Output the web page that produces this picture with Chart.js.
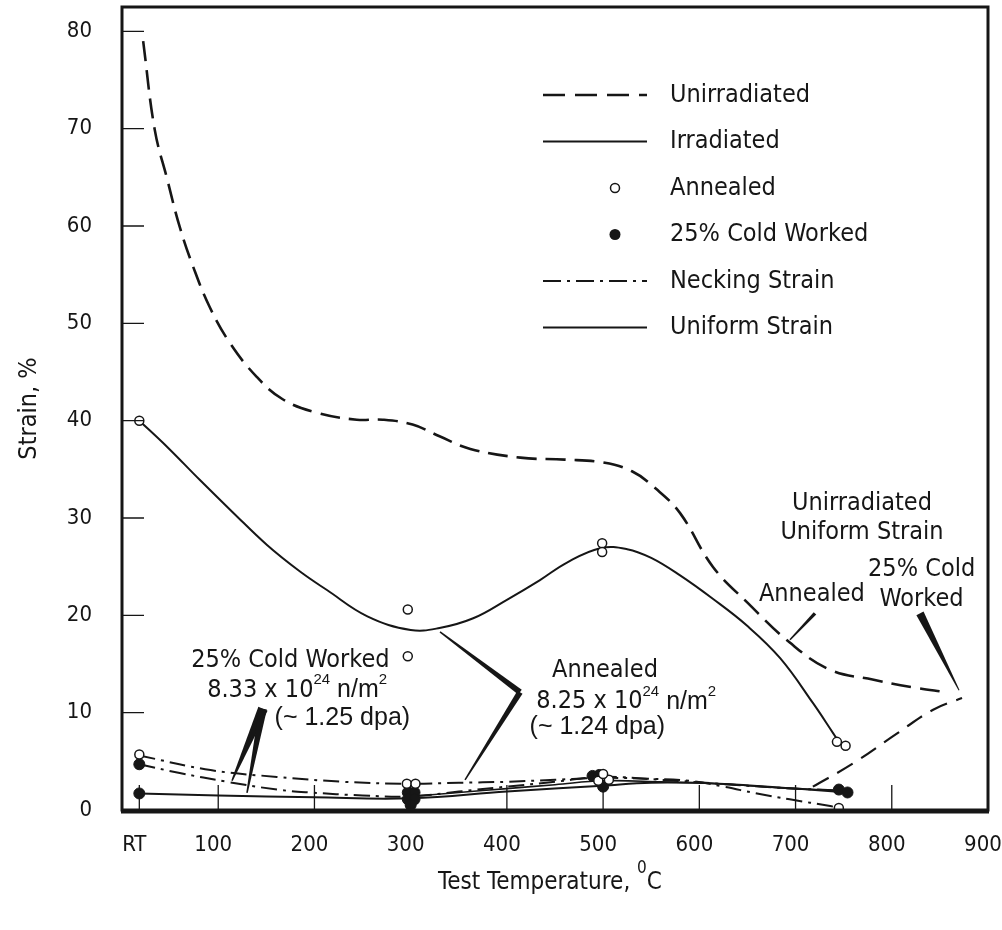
<!DOCTYPE html>
<html>
<head>
<meta charset="utf-8">
<title>Strain vs Test Temperature</title>
<script src="https://cdn.jsdelivr.net/npm/chart.js@4.4.1/dist/chart.umd.min.js"></script>
<style>
  html, body { margin: 0; padding: 0; background: #fff; }
</style>
</head>
<body>
<canvas id="strainChart" width="1002" height="930"></canvas>
<script>
const NARROW = '"Liberation Sans Narrow", "DejaVu Sans Condensed", "Arial Narrow", sans-serif';
const ARIAL = '"Liberation Sans", Arial, sans-serif';
const INK = '#161616';

const RT = 18; // room temperature, plotted just right of 0

const xTicks = [RT, 100, 200, 300, 400, 500, 600, 700, 800, 900];
const yTicks = [0, 10, 20, 30, 40, 50, 60, 70, 80];

// unirradiated, annealed
const unirrTemp = [22, 34, 47, 60, 74, 91, 112, 140, 167, 203, 244, 271, 302, 330, 362, 414, 460, 500, 530, 555, 580, 614, 650, 694, 736, 780, 822, 857];
const unirrStrain = [79.0, 69.9, 64.8, 59.9, 55.8, 51.7, 48.0, 44.5, 42.2, 40.8, 40.1, 40.1, 39.6, 38.4, 37.1, 36.2, 36.0, 35.7, 34.8, 33.0, 30.5, 25.0, 21.3, 17.2, 14.4, 13.4, 12.6, 12.1];

// unirradiated uniform strain, 25% cold worked
const unirrCwTemp = [718, 760, 806, 843, 873];
const unirrCwStrain = [2.4, 4.8, 7.9, 10.3, 11.5];

// irradiated, annealed
const irrTemp = [RT, 47, 81, 115, 151, 185, 213, 255, 300, 330, 365, 400, 434, 462, 497, 525, 550, 580, 614, 650, 684, 718, 739, 745];
const irrStrain = [40.0, 37.3, 33.9, 30.6, 27.2, 24.5, 22.6, 19.9, 18.5, 18.7, 19.7, 21.6, 23.6, 25.4, 26.9, 26.8, 25.9, 24.1, 21.7, 18.9, 15.6, 11.0, 7.9, 7.0];

// necking strain
const neckAnnTemp = [RT, 92, 161, 230, 296, 350, 400, 450, 500, 550, 590, 625, 660, 694, 736, 745];
const neckAnnStrain = [5.6, 4.1, 3.4, 2.9, 2.7, 2.8, 2.9, 3.1, 3.3, 3.2, 3.0, 2.4, 1.7, 1.1, 0.4, 0.2];
const neckCwTemp = [RT, 60, 109, 161, 195, 250, 300, 350, 400, 450, 500, 560, 620, 680, 745];
const neckCwStrain = [4.7, 3.8, 2.9, 2.1, 1.8, 1.5, 1.4, 1.9, 2.4, 2.9, 3.4, 3.1, 2.7, 2.3, 2.0];

// uniform strain
const unifCwTemp = [RT, 100, 200, 300, 400, 499, 550, 620, 700, 754];
const unifCwStrain = [1.7, 1.5, 1.3, 1.2, 1.9, 2.5, 2.8, 2.7, 2.2, 1.8];
const unifAnnTemp = [300, 350, 400, 450, 500, 560, 620, 680, 745];
const unifAnnStrain = [1.4, 1.8, 2.2, 2.6, 3.0, 2.9, 2.7, 2.3, 2.0];

// measured specimens
const annealedTemp = [RT, 297, 297, 499, 499, 743, 752, RT, 296, 305, 495, 506, 500, 745];
const annealedStrain = [40.0, 20.6, 15.8, 27.4, 26.5, 7.0, 6.6, 5.7, 2.7, 2.7, 3.0, 3.1, 3.7, 0.2];
const coldWorkedTemp = [RT, RT, 297, 304, 297, 304, 300, 489, 496, 500, 745, 754];
const coldWorkedStrain = [4.7, 1.7, 1.8, 1.8, 1.1, 1.1, 0.5, 3.5, 3.6, 2.4, 2.1, 1.8];

function pts(xs, ys) {
  return xs.map((x, i) => ({ x: x, y: ys[i] }));
}

function curve(label, xs, ys, width, dash) {
  return {
    label: label,
    data: pts(xs, ys),
    borderColor: INK,
    borderWidth: width,
    borderDash: dash || [],
    pointRadius: 0,
    fill: false,
    tension: 0.4
  };
}

// tapered pointer stroke from a (width wa) to b (width wb)
function taper(ctx, a, b, wa, wb) {
  const dx = b.x - a.x, dy = b.y - a.y;
  const len = Math.hypot(dx, dy) || 1;
  const nx = -dy / len, ny = dx / len;
  ctx.beginPath();
  ctx.moveTo(a.x + nx * wa / 2, a.y + ny * wa / 2);
  ctx.lineTo(b.x + nx * wb / 2, b.y + ny * wb / 2);
  ctx.lineTo(b.x - nx * wb / 2, b.y - ny * wb / 2);
  ctx.lineTo(a.x - nx * wa / 2, a.y - ny * wa / 2);
  ctx.closePath();
  ctx.fill();
}

// text runs with raised superscripts, centred on cx
function richText(ctx, parts, cx, cy) {
  let w = 0;
  parts.forEach(p => { ctx.font = p[1]; w += ctx.measureText(p[0]).width; });
  let x = cx - w / 2;
  ctx.textAlign = 'left';
  ctx.textBaseline = 'middle';
  parts.forEach(p => {
    ctx.font = p[1];
    ctx.fillText(p[0], x, cy - (p[2] || 0));
    x += ctx.measureText(p[0]).width;
  });
}

const NOTE_FONT = '25px ' + NARROW;
const SUP_FONT = '15px ' + ARIAL;
const DPA_FONT = '25px ' + ARIAL;

const notes = [
  { t: 'Unirradiated', x: 769, y: 31.5 },
  { t: 'Uniform Strain', x: 769, y: 28.5 },
  { t: 'Annealed', x: 717, y: 22.1 },
  { t: '25% Cold', x: 831, y: 24.7 },
  { t: 'Worked', x: 831, y: 21.6 },
  { t: '25% Cold Worked', x: 175, y: 15.4 },
  { t: 'Annealed', x: 502, y: 14.3 }
];

const fluence = [
  { lead: '8.33 x 10', dpa: '(~ 1.25 dpa)', x: 182, y: 12.3, dx: 229, dy: 9.45 },
  { lead: '8.25 x 10', dpa: '(~ 1.24 dpa)', x: 524, y: 11.1, dx: 494, dy: 8.5 }
];

const legendRows = [
  { t: 'Unirradiated', kind: 'line', dash: [22, 10], w: 2.5 },
  { t: 'Irradiated', kind: 'line', dash: [], w: 2 },
  { t: 'Annealed', kind: 'open' },
  { t: '25% Cold Worked', kind: 'filled' },
  { t: 'Necking Strain', kind: 'line', dash: [18, 6, 3, 6], w: 2 },
  { t: 'Uniform Strain', kind: 'line', dash: [], w: 2 }
];

const decorations = {
  id: 'decorations',
  afterDraw(chart) {
    const { ctx, chartArea: a, scales } = chart;
    const sx = scales.x, sy = scales.y;
    const P = (x, y) => ({ x: sx.getPixelForValue(x), y: sy.getPixelForValue(y) });
    ctx.save();
    ctx.fillStyle = INK;
    ctx.strokeStyle = INK;

    // frame
    ctx.lineWidth = 3;
    ctx.strokeRect(a.left, a.top, a.right - a.left, a.bottom - a.top);
    ctx.lineWidth = 4;
    ctx.beginPath();
    ctx.moveTo(a.left - 1, a.bottom + 1.5);
    ctx.lineTo(a.right + 1, a.bottom + 1.5);
    ctx.stroke();

    // inward tick marks
    ctx.lineWidth = 1.3;
    ctx.beginPath();
    yTicks.slice(1).forEach(v => {
      const py = sy.getPixelForValue(v);
      ctx.moveTo(a.left, py);
      ctx.lineTo(a.left + 22, py);
    });
    xTicks.slice(0, -1).forEach(v => {
      const px = sx.getPixelForValue(v);
      ctx.moveTo(px, a.bottom);
      ctx.lineTo(px, a.bottom - 25);
    });
    ctx.stroke();

    // legend
    legendRows.forEach((r, i) => {
      const y = 95 + i * 46.5;
      if (r.kind === 'line') {
        ctx.lineWidth = r.w;
        ctx.setLineDash(r.dash);
        ctx.beginPath();
        ctx.moveTo(543, y);
        ctx.lineTo(647, y);
        ctx.stroke();
        ctx.setLineDash([]);
      } else {
        ctx.beginPath();
        ctx.arc(615, y, r.kind === 'open' ? 4.5 : 5.5, 0, Math.PI * 2);
        if (r.kind === 'open') {
          ctx.fillStyle = '#fff';
          ctx.fill();
          ctx.lineWidth = 1.5;
          ctx.stroke();
          ctx.fillStyle = INK;
        } else {
          ctx.fill();
        }
      }
      ctx.font = NOTE_FONT;
      ctx.textAlign = 'left';
      ctx.textBaseline = 'middle';
      ctx.fillText(r.t, 670, y);
    });

    // labels inside the plot
    ctx.font = NOTE_FONT;
    ctx.textAlign = 'center';
    ctx.textBaseline = 'middle';
    notes.forEach(n => {
      const p = P(n.x, n.y);
      ctx.fillText(n.t, p.x, p.y);
    });
    fluence.forEach(f => {
      const p = P(f.x, f.y);
      richText(ctx, [
        [f.lead, NOTE_FONT],
        ['24', SUP_FONT, 10],
        [' n/m', DPA_FONT],
        ['2', SUP_FONT, 10]
      ], p.x, p.y);
      const q = P(f.dx, f.dy);
      ctx.font = DPA_FONT;
      ctx.textAlign = 'center';
      ctx.fillText(f.dpa, q.x, q.y);
    });

    // pointers
    taper(ctx, P(146.5, 10.4), P(114.3, 3.0), 10, 1.5);
    taper(ctx, P(146.5, 10.4), P(129.9, 1.75), 8, 1.5);
    taper(ctx, P(330.5, 18.3), P(413.6, 12.1), 1.5, 6);
    taper(ctx, P(413.6, 12.1), P(356.5, 3.1), 6, 1.5);
    taper(ctx, P(720.2, 20.2), P(694.2, 17.5), 3.5, 1.5);
    taper(ctx, P(829.3, 20.2), P(869.9, 12.3), 8, 1);

    // x axis title
    const cx = (a.left + a.right) / 2 - 5;
    richText(ctx, [
      ['Test Temperature, ', '24px ' + NARROW],
      ['0', '17px ' + NARROW, 14],
      ['C', '24px ' + NARROW]
    ], cx, 883);
    ctx.restore();
  }
};

new Chart(document.getElementById('strainChart'), {
  type: 'line',
  data: {
    datasets: [
      {
        label: 'Annealed',
        type: 'scatter',
        data: pts(annealedTemp, annealedStrain),
        pointRadius: 4.5,
        pointBackgroundColor: '#fff',
        pointBorderColor: INK,
        pointBorderWidth: 1.5,
        showLine: false
      },
      {
        label: '25% Cold Worked',
        type: 'scatter',
        data: pts(coldWorkedTemp, coldWorkedStrain),
        pointRadius: 5.5,
        pointBackgroundColor: INK,
        pointBorderColor: INK,
        pointBorderWidth: 1,
        showLine: false
      },
      curve('Unirradiated', unirrTemp, unirrStrain, 2.6, [20, 9]),
      curve('Unirradiated uniform, cold worked', unirrCwTemp, unirrCwStrain, 2.2, [18, 10]),
      curve('Irradiated', irrTemp, irrStrain, 2),
      curve('Necking strain, annealed', neckAnnTemp, neckAnnStrain, 2, [16, 6, 3, 6]),
      curve('Necking strain, cold worked', neckCwTemp, neckCwStrain, 2, [16, 6, 3, 6]),
      curve('Uniform strain, cold worked', unifCwTemp, unifCwStrain, 2),
      curve('Uniform strain, annealed', unifAnnTemp, unifAnnStrain, 1.6)
    ]
  },
  options: {
    responsive: false,
    animation: false,
    layout: { padding: { top: 7, right: 14, left: 0, bottom: 0 } },
    plugins: {
      legend: { display: false },
      tooltip: { enabled: false }
    },
    scales: {
      x: {
        type: 'linear',
        min: 0,
        max: 900,
        afterBuildTicks: s => { s.ticks = xTicks.map(v => ({ value: v })); },
        afterFit: s => {
          s.height = 120;
          s.paddingLeft = 0;
          s.paddingRight = 0;
        },
        grid: { display: false },
        border: { display: false },
        ticks: {
          autoSkip: false,
          maxRotation: 0,
          padding: 14,
          labelOffset: -5,
          color: INK,
          font: { family: NARROW, size: 22 },
          callback: v => (v === RT ? 'RT' : v)
        }
      },
      y: {
        min: 0,
        max: 82.5,
        afterBuildTicks: s => { s.ticks = yTicks.map(v => ({ value: v })); },
        afterFit: s => {
          s.width = 122;
          s.paddingTop = 0;
          s.paddingBottom = 0;
        },
        grid: { display: false },
        border: { display: false },
        ticks: {
          padding: 22,
          color: INK,
          font: { family: NARROW, size: 22 }
        },
        title: {
          display: true,
          text: 'Strain, %',
          color: INK,
          font: { family: NARROW, size: 25 },
          padding: { top: 14, bottom: 0 }
        }
      }
    }
  },
  plugins: [decorations]
});
</script>
</body>
</html>
